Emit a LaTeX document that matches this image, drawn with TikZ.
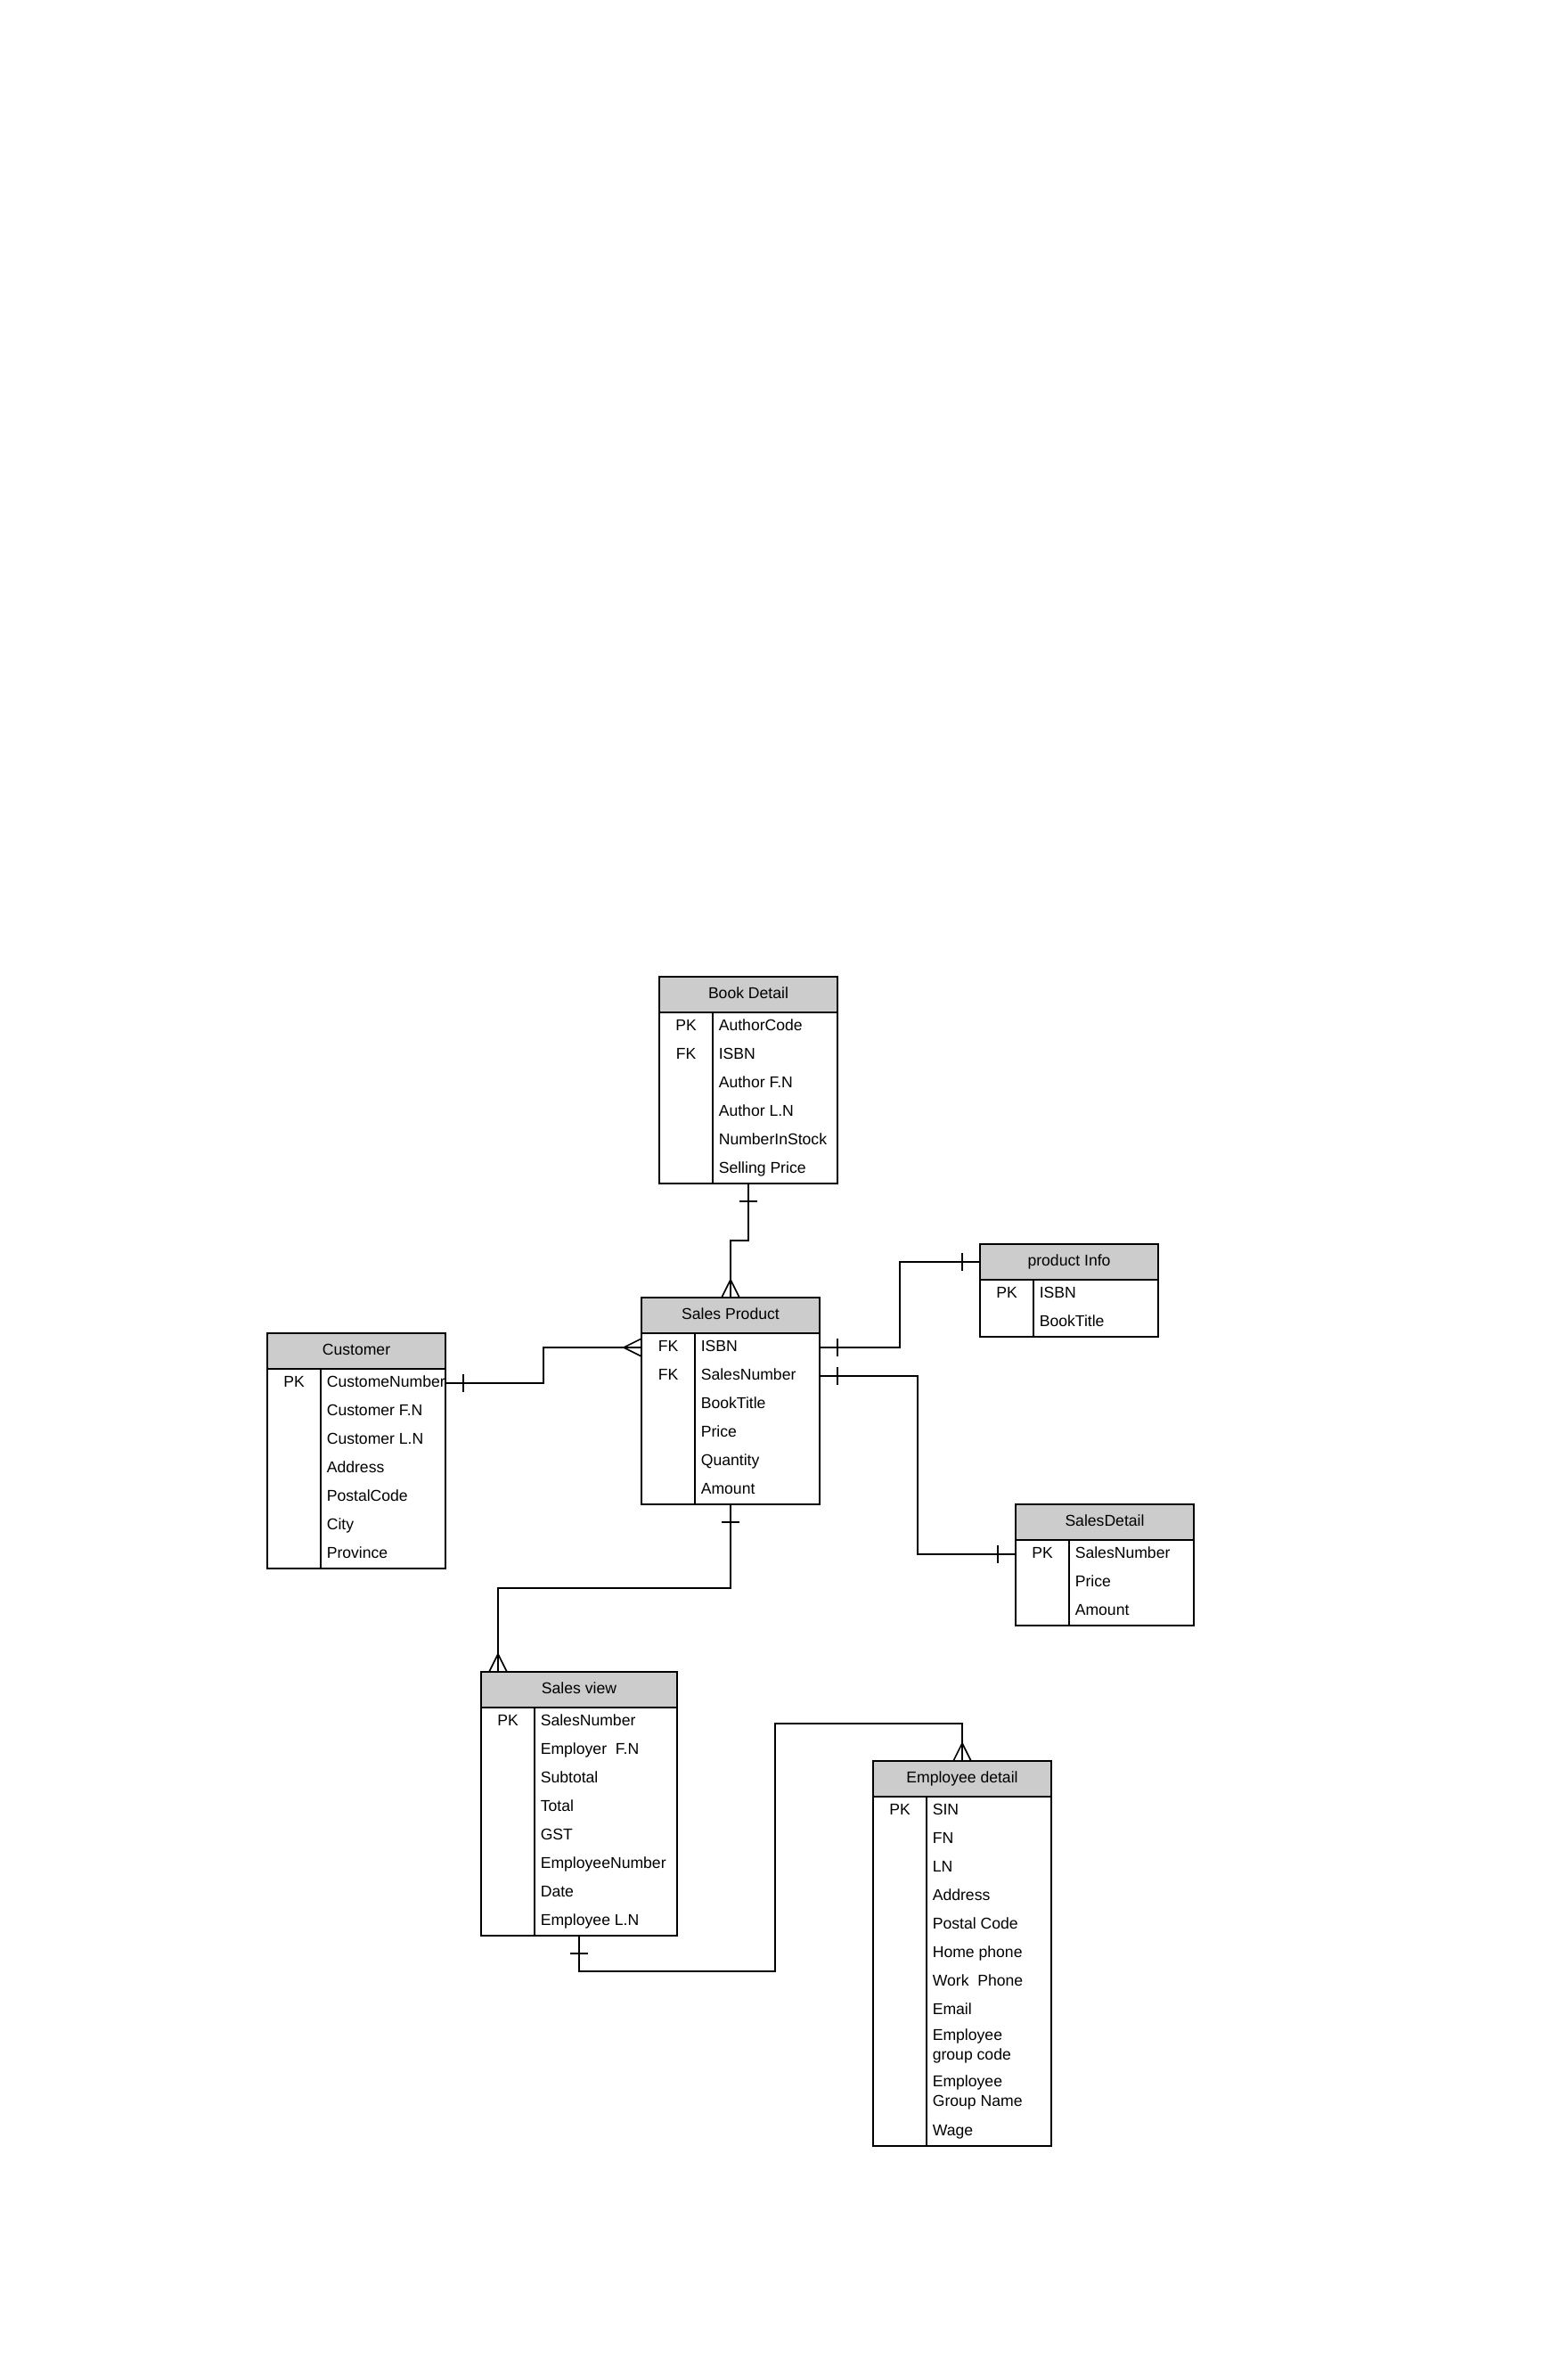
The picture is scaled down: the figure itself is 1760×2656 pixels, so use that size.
\documentclass[tikz,border=0pt]{standalone}
\usepackage{fontspec}
\setmainfont{Liberation Sans}
\usetikzlibrary{positioning}

\definecolor{headgray}{HTML}{CCCCCC}

\tikzset{
    tblhead/.style={draw, fill=headgray, minimum height=20pt, inner sep=0pt, outer sep=0pt, text height=6.3pt, text depth=2pt, anchor=north west},
    tblbody/.style={draw, inner sep=0pt, outer sep=0pt},
    keycol/.style={anchor=base, inner sep=0pt},
    attrcol/.style={anchor=base west, inner sep=0pt},
    pics/onemark/.style={code={\draw (10pt,-5pt) -- (10pt,5pt);}},
    pics/crowfoot/.style={code={\draw (0,-5pt) -- (10pt,0) -- (0,5pt);}}
}

\begin{document}
\begin{tikzpicture}[x=0.5pt, y=-0.5pt, line width=0.8pt, every node/.style={font=\fontsize{8.8}{10.7}\selectfont}]
        \path[fill=white, use as bounding box] (0,0) rectangle (1760,2656);

        % Tabella Book Detail
        \node[tblhead, minimum width=100pt] (bdh) at (740,1096) {Book Detail};
        \node[tblbody, minimum width=100pt, minimum height=96pt, below=0pt of bdh] (bd) {};
        \draw ([xshift=30pt]bd.north west) -- ([xshift=30pt]bd.south west);
        \foreach \k/\t [count=\i] in {PK/AuthorCode, FK/ISBN, /Author F.N, /Author L.N, /NumberInStock, /Selling Price}{
            \node[keycol] (bd-k\i) at ([shift={(15pt,{(6-16*\i)*1pt})}]bd.north west) {\k};
            \node[attrcol] (bd-\i) at ([shift={(33pt,{(6-16*\i)*1pt})}]bd.north west) {\t};
        }

        % Tabella Customer
        \node[tblhead, minimum width=100pt] (cuh) at (300,1496) {Customer};
        \node[tblbody, minimum width=100pt, minimum height=112pt, below=0pt of cuh] (cu) {};
        \draw ([xshift=30pt]cu.north west) -- ([xshift=30pt]cu.south west);
        \foreach \k/\t [count=\i] in {PK/CustomeNumber, /Customer F.N, /Customer L.N, /Address, /PostalCode, /City, /Province}{
            \node[keycol] (cu-k\i) at ([shift={(15pt,{(6-16*\i)*1pt})}]cu.north west) {\k};
            \node[attrcol] (cu-\i) at ([shift={(33pt,{(6-16*\i)*1pt})}]cu.north west) {\t};
        }

        % Tabella Sales Product
        \node[tblhead, minimum width=100pt] (sph) at (720,1456) {Sales Product};
        \node[tblbody, minimum width=100pt, minimum height=96pt, below=0pt of sph] (sp) {};
        \draw ([xshift=30pt]sp.north west) -- ([xshift=30pt]sp.south west);
        \foreach \k/\t [count=\i] in {FK/ISBN, FK/SalesNumber, /BookTitle, /Price, /Quantity, /Amount}{
            \node[keycol] (sp-k\i) at ([shift={(15pt,{(6-16*\i)*1pt})}]sp.north west) {\k};
            \node[attrcol] (sp-\i) at ([shift={(33pt,{(6-16*\i)*1pt})}]sp.north west) {\t};
        }

        % Tabella product Info
        \node[tblhead, minimum width=100pt] (pih) at (1100,1396) {product Info};
        \node[tblbody, minimum width=100pt, minimum height=32pt, below=0pt of pih] (pi) {};
        \draw ([xshift=30pt]pi.north west) -- ([xshift=30pt]pi.south west);
        \foreach \k/\t [count=\i] in {PK/ISBN, /BookTitle}{
            \node[keycol] (pi-k\i) at ([shift={(15pt,{(6-16*\i)*1pt})}]pi.north west) {\k};
            \node[attrcol] (pi-\i) at ([shift={(33pt,{(6-16*\i)*1pt})}]pi.north west) {\t};
        }

        % Tabella SalesDetail
        \node[tblhead, minimum width=100pt] (sdh) at (1140,1688) {SalesDetail};
        \node[tblbody, minimum width=100pt, minimum height=48pt, below=0pt of sdh] (sd) {};
        \draw ([xshift=30pt]sd.north west) -- ([xshift=30pt]sd.south west);
        \foreach \k/\t [count=\i] in {PK/SalesNumber, /Price, /Amount}{
            \node[keycol] (sd-k\i) at ([shift={(15pt,{(6-16*\i)*1pt})}]sd.north west) {\k};
            \node[attrcol] (sd-\i) at ([shift={(33pt,{(6-16*\i)*1pt})}]sd.north west) {\t};
        }

        % Tabella Sales view
        \node[tblhead, minimum width=110pt] (svh) at (540,1876) {Sales view};
        \node[tblbody, minimum width=110pt, minimum height=128pt, below=0pt of svh] (sv) {};
        \draw ([xshift=30pt]sv.north west) -- ([xshift=30pt]sv.south west);
        \foreach \k/\t [count=\i] in {PK/SalesNumber, /Employer\ \ F.N, /Subtotal, /Total, /GST, /EmployeeNumber, /Date, /Employee L.N}{
            \node[keycol] (sv-k\i) at ([shift={(15pt,{(6-16*\i)*1pt})}]sv.north west) {\k};
            \node[attrcol] (sv-\i) at ([shift={(33pt,{(6-16*\i)*1pt})}]sv.north west) {\t};
        }

        % Tabella Employee detail (righe doppie a parte)
        \node[tblhead, minimum width=100pt] (edh) at (980,1976) {Employee detail};
        \node[tblbody, minimum width=100pt, minimum height=196pt, below=0pt of edh] (ed) {};
        \draw ([xshift=30pt]ed.north west) -- ([xshift=30pt]ed.south west);
        \node[keycol] (ed-k1) at ([shift={(15pt,-10pt)}]ed.north west) {PK};
        \foreach \t/\y [count=\i] in {SIN/8, FN/24, LN/40, Address/56, Postal Code/72, Home phone/88, Work\ \ Phone/104, Email/120, Wage/188}{
            \node[attrcol] (ed-\i) at ([shift={(33pt,{(-\y-2)*1pt})}]ed.north west) {\t};
        }
        \node[anchor=west, align=left, inner sep=0pt] (ed-g1) at ([shift={(33pt,-140pt)}]ed.north west) {Employee\\group code};
        \node[anchor=west, align=left, inner sep=0pt] (ed-g2) at ([shift={(33pt,-166pt)}]ed.north west) {Employee\\Group Name};

        % Collegamenti
        \draw (bd.south) -- ++(0,-32pt) -| (sph.north);
        \pic[rotate=-90] at (bd.south) {onemark};
        \pic[rotate=90] at (sph.north) {crowfoot};

        \coordinate (cuout) at ([yshift=-8pt]cu.north east);
        \coordinate (spin) at ([yshift=-8pt]sp.north west);
        \draw (cuout) -- ++(55pt,0) |- (spin);
        \pic at (cuout) {onemark};
        \pic[rotate=180] at (spin) {crowfoot};

        \coordinate (spisbn) at ([yshift=-8pt]sp.north east);
        \draw (spisbn) -- ++(45pt,0) |- (pih.west);
        \pic at (spisbn) {onemark};
        \pic[rotate=180] at (pih.west) {onemark};

        \coordinate (spsales) at ([yshift=-24pt]sp.north east);
        \coordinate (sdin) at ([yshift=-8pt]sd.north west);
        \draw (spsales) -- ++(55pt,0) |- (sdin);
        \pic at (spsales) {onemark};
        \pic[rotate=180] at (sdin) {onemark};

        \coordinate (svtop) at ([xshift=9.5pt]svh.north west);
        \draw (sp.south) -- ++(0,-47pt) -| (svtop);
        \pic[rotate=-90] at (sp.south) {onemark};
        \pic[rotate=90] at (svtop) {crowfoot};

        \draw (sv.south) -- ++(0,-20pt) -- ++(110pt,0) |- ([yshift=21pt]edh.north) -- (edh.north);
        \pic[rotate=-90] at (sv.south) {onemark};
        \pic[rotate=90] at (edh.north) {crowfoot};
    \end{tikzpicture}
\end{document}
